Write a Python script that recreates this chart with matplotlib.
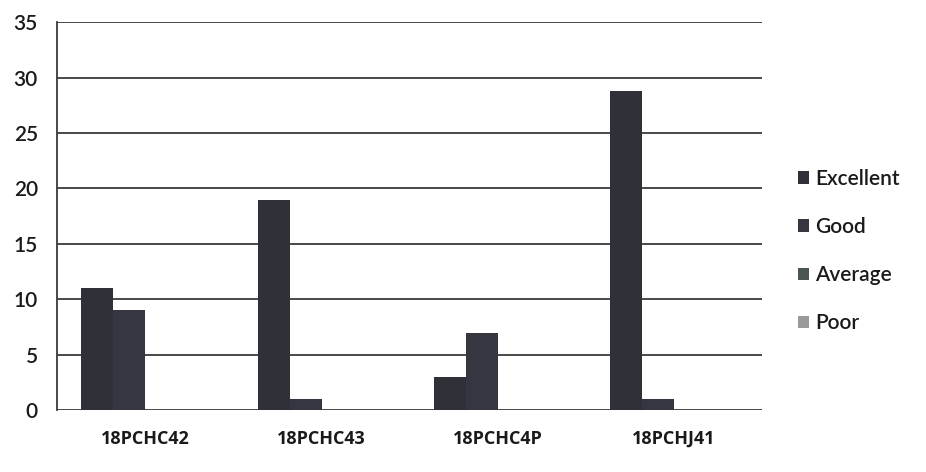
import numpy as np
import matplotlib.pyplot as plt

plt.rcParams['font.family'] = ['Lato', 'DejaVu Sans']

courses = ["18PCHC42", "18PCHC43", "18PCHC4P", "18PCHJ41"]
excellent = [11, 19, 3, 28.8]
good = [9, 1, 7, 1]
average = [0, 0, 0, 0]
poor = [0, 0, 0, 0]

series = [("Excellent", excellent, "#2f3038"),
          ("Good", good, "#35363f"),
          ("Average", average, "#4b5654"),
          ("Poor", poor, "#9a9a9a")]

fig = plt.figure(figsize=(9.26, 4.72), dpi=100)
ax = fig.add_axes([0.062, 0.131, 0.761, 0.822])

x = np.arange(len(courses))
w = 1 / 5.5
for i, (name, vals, col) in enumerate(series):
    ax.bar(x + (i - 1.5) * w, vals, width=w, color=col, label=name, zorder=3)

ax.set_xlim(-0.5, len(courses) - 0.5)
ax.set_ylim(0, 35)
ax.set_yticks(range(0, 36, 5))
ax.yaxis.grid(True, color="#3a3a3a", lw=1.3, zorder=0)
ax.set_xticks(x)
ax.set_xticklabels(courses, fontsize=13, fontweight="bold", color="#1a1a1a",
                   family=["Open Sans", "DejaVu Sans"])
ax.tick_params(axis="y", labelsize=15, length=0, pad=14, labelcolor="#1a1a1a")
ax.tick_params(axis="x", length=0, pad=14)
for lab in ax.get_yticklabels():
    lab.set_fontweight("semibold")
for s in ["top", "right", "bottom"]:
    ax.spines[s].set_visible(False)
ax.spines["left"].set_color("#3a3a3a")
ax.spines["left"].set_linewidth(1.3)

leg = ax.legend(loc="center left", bbox_to_anchor=(1.0, 0.41), frameon=False,
                fontsize=15, handlelength=0.55, handleheight=0.55, handletextpad=0.3,
                labelspacing=1.35, borderaxespad=1.3)
for t in leg.get_texts():
    t.set_fontweight("semibold")
    t.set_color("#1a1a1a")

fig.savefig("out.png", dpi=100, facecolor="white")
